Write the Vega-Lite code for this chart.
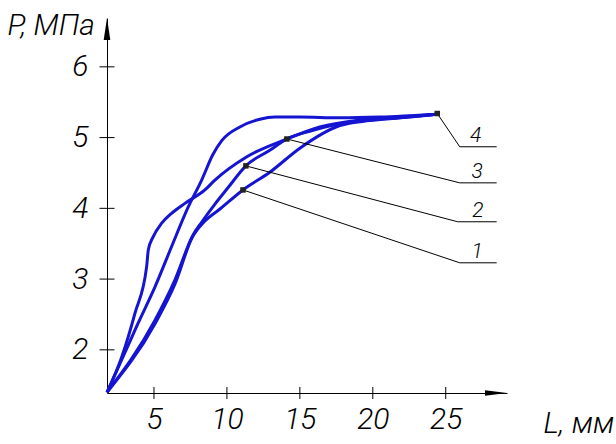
{
  "$schema": "https://vega.github.io/schema/vega-lite/v6.json",
  "width": 400,
  "height": 375,
  "autosize": {"type": "none"},
  "padding": {"left": 107, "top": 18, "right": 109, "bottom": 51},
  "background": "white",
  "config": {
    "view": {"stroke": null},
    "axis": {
      "grid": false,
      "ticks": false,
      "tickSize": 0,
      "domainColor": "black",
      "domainWidth": 1,
      "labelColor": "black",
      "labelFont": "Roboto",
      "labelFontStyle": "italic",
      "labelFontWeight": 300,
      "labelFontSize": 30,
      "labelFlush": false,
      "labelOverlap": false,
      "titleColor": "black",
      "titleFont": "Roboto",
      "titleFontStyle": "italic",
      "titleFontWeight": 300,
      "titleFontSize": 30
    }
  },
  "datasets": {
    "curves": [
      {"curve": "3", "x": 1.78, "y": 1.40}, {"curve": "3", "x": 2.79, "y": 1.90}, {"curve": "3", "x": 3.70, "y": 2.52}, {"curve": "3", "x": 4.50, "y": 3.18},
      {"curve": "3", "x": 4.61, "y": 3.41}, {"curve": "3", "x": 4.95, "y": 3.60}, {"curve": "3", "x": 5.53, "y": 3.79}, {"curve": "3", "x": 6.21, "y": 3.93},
      {"curve": "3", "x": 7.12, "y": 4.07}, {"curve": "3", "x": 8.49, "y": 4.26}, {"curve": "3", "x": 9.18, "y": 4.40}, {"curve": "3", "x": 11.37, "y": 4.73},
      {"curve": "3", "x": 14.11, "y": 4.98}, {"curve": "3", "x": 16.37, "y": 5.15}, {"curve": "3", "x": 19.11, "y": 5.25}, {"curve": "3", "x": 21.85, "y": 5.29},
      {"curve": "3", "x": 24.38, "y": 5.33},
      {"curve": "4", "x": 1.78, "y": 1.40}, {"curve": "4", "x": 2.79, "y": 1.86}, {"curve": "4", "x": 3.92, "y": 2.38}, {"curve": "4", "x": 5.07, "y": 2.89},
      {"curve": "4", "x": 6.21, "y": 3.46}, {"curve": "4", "x": 7.35, "y": 4.02}, {"curve": "4", "x": 8.27, "y": 4.40}, {"curve": "4", "x": 9.04, "y": 4.76},
      {"curve": "4", "x": 9.66, "y": 4.96}, {"curve": "4", "x": 10.89, "y": 5.15}, {"curve": "4", "x": 12.26, "y": 5.26}, {"curve": "4", "x": 13.29, "y": 5.29},
      {"curve": "4", "x": 15.0, "y": 5.29}, {"curve": "4", "x": 17.74, "y": 5.28}, {"curve": "4", "x": 20.48, "y": 5.29}, {"curve": "4", "x": 24.38, "y": 5.33},
      {"curve": "2", "x": 1.78, "y": 1.40}, {"curve": "2", "x": 5.07, "y": 2.42}, {"curve": "2", "x": 6.44, "y": 2.99}, {"curve": "2", "x": 7.67, "y": 3.62},
      {"curve": "2", "x": 8.29, "y": 3.81}, {"curve": "2", "x": 9.18, "y": 4.06}, {"curve": "2", "x": 10.07, "y": 4.29}, {"curve": "2", "x": 11.30, "y": 4.60},
      {"curve": "2", "x": 12.94, "y": 4.82}, {"curve": "2", "x": 14.11, "y": 4.98}, {"curve": "2", "x": 15.68, "y": 5.09}, {"curve": "2", "x": 17.74, "y": 5.19},
      {"curve": "2", "x": 19.79, "y": 5.25}, {"curve": "2", "x": 21.85, "y": 5.28}, {"curve": "2", "x": 24.38, "y": 5.33},
      {"curve": "1", "x": 1.78, "y": 1.40}, {"curve": "1", "x": 5.07, "y": 2.37}, {"curve": "1", "x": 6.44, "y": 2.93}, {"curve": "1", "x": 7.60, "y": 3.58},
      {"curve": "1", "x": 8.49, "y": 3.82}, {"curve": "1", "x": 9.52, "y": 3.99}, {"curve": "1", "x": 11.10, "y": 4.26}, {"curve": "1", "x": 12.94, "y": 4.51},
      {"curve": "1", "x": 15.0, "y": 4.85}, {"curve": "1", "x": 17.74, "y": 5.17}, {"curve": "1", "x": 19.79, "y": 5.24}, {"curve": "1", "x": 21.85, "y": 5.28},
      {"curve": "1", "x": 24.38, "y": 5.33}
    ],
    "leaders": [
      {"k": "1", "x": 11.10, "y": 4.26}, {"k": "1", "x": 25.96, "y": 3.23}, {"k": "1", "x": 28.49, "y": 3.23},
      {"k": "2", "x": 11.30, "y": 4.60}, {"k": "2", "x": 25.82, "y": 3.81}, {"k": "2", "x": 28.49, "y": 3.81},
      {"k": "3", "x": 14.11, "y": 4.98}, {"k": "3", "x": 25.96, "y": 4.36}, {"k": "3", "x": 28.49, "y": 4.36},
      {"k": "4", "x": 24.42, "y": 5.34}, {"k": "4", "x": 25.96, "y": 4.87}, {"k": "4", "x": 28.49, "y": 4.87}
    ],
    "markers": [
      {"k": "1", "x": 11.10, "y": 4.26},
      {"k": "2", "x": 11.30, "y": 4.60},
      {"k": "3", "x": 14.11, "y": 4.98},
      {"k": "4", "x": 24.42, "y": 5.34}
    ],
    "labels": [
      {"k": "1", "x": 27.15, "y": 3.23},
      {"k": "2", "x": 27.2, "y": 3.81},
      {"k": "3", "x": 27.15, "y": 4.36},
      {"k": "4", "x": 27.05, "y": 4.87}
    ],
    "yticks": [
      {"x": 1.78, "y": 2}, {"x": 1.78, "y": 3}, {"x": 1.78, "y": 4}, {"x": 1.78, "y": 5}, {"x": 1.78, "y": 6}
    ],
    "xticks": [
      {"x": 5, "y": 1.39}, {"x": 10, "y": 1.39}, {"x": 15, "y": 1.39}, {"x": 20, "y": 1.39}, {"x": 25, "y": 1.39}
    ],
    "arrowUp": [{"x": 1.78, "y": 6.69}],
    "arrowRight": [{"x": 29.2, "y": 1.39}]
  },
  "encoding": {
    "x": {
      "field": "x",
      "type": "quantitative",
      "scale": {"domain": [1.78, 29.2], "nice": false, "zero": false},
      "axis": {
        "values": [5, 10, 15, 20, 25],
        "labelPadding": 11,
        "labelDx": -2,
        "title": "L, мм",
        "titleX": 436,
        "titleY": 39,
        "titleAlign": "left",
        "titleBaseline": "alphabetic",
        "titleAnchor": null
      }
    },
    "y": {
      "field": "y",
      "type": "quantitative",
      "scale": {"domain": [1.39, 6.69], "nice": false, "zero": false},
      "axis": {
        "values": [2, 3, 4, 5, 6],
        "labelPadding": 19,
        "title": "P, МПа",
        "titleAngle": 0,
        "titleX": -100,
        "titleY": 16,
        "titleAlign": "left",
        "titleBaseline": "alphabetic",
        "titleAnchor": null
      }
    }
  },
  "layer": [
    {
      "data": {"name": "curves"},
      "mark": {"type": "line", "color": "#1414d2", "strokeWidth": 3, "interpolate": "monotone"},
      "encoding": {"detail": {"field": "curve"}}
    },
    {
      "data": {"name": "leaders"},
      "mark": {"type": "line", "color": "black", "strokeWidth": 1},
      "encoding": {"detail": {"field": "k"}}
    },
    {
      "data": {"name": "markers"},
      "mark": {"type": "point", "shape": "square", "filled": true, "color": "#222222", "size": 30, "opacity": 1}
    },
    {
      "data": {"name": "labels"},
      "mark": {"type": "text", "font": "Roboto", "fontStyle": "italic", "fontWeight": 300, "fontSize": 21, "color": "black", "align": "center", "baseline": "alphabetic", "dy": -5},
      "encoding": {"text": {"field": "k"}}
    },
    {
      "data": {"name": "yticks"},
      "mark": {"type": "tick", "orient": "horizontal", "size": 15, "thickness": 1, "color": "black", "opacity": 1}
    },
    {
      "data": {"name": "xticks"},
      "mark": {"type": "tick", "orient": "vertical", "size": 12, "thickness": 1, "color": "black", "opacity": 1}
    },
    {
      "data": {"name": "arrowUp"},
      "mark": {"type": "point", "shape": "M0,0L0.3,2L-0.3,2Z", "filled": true, "color": "black", "size": 484, "opacity": 1}
    },
    {
      "data": {"name": "arrowRight"},
      "mark": {"type": "point", "shape": "M0,0L-2,-0.25L-2,0.25Z", "filled": true, "color": "black", "size": 484, "opacity": 1}
    }
  ]
}
